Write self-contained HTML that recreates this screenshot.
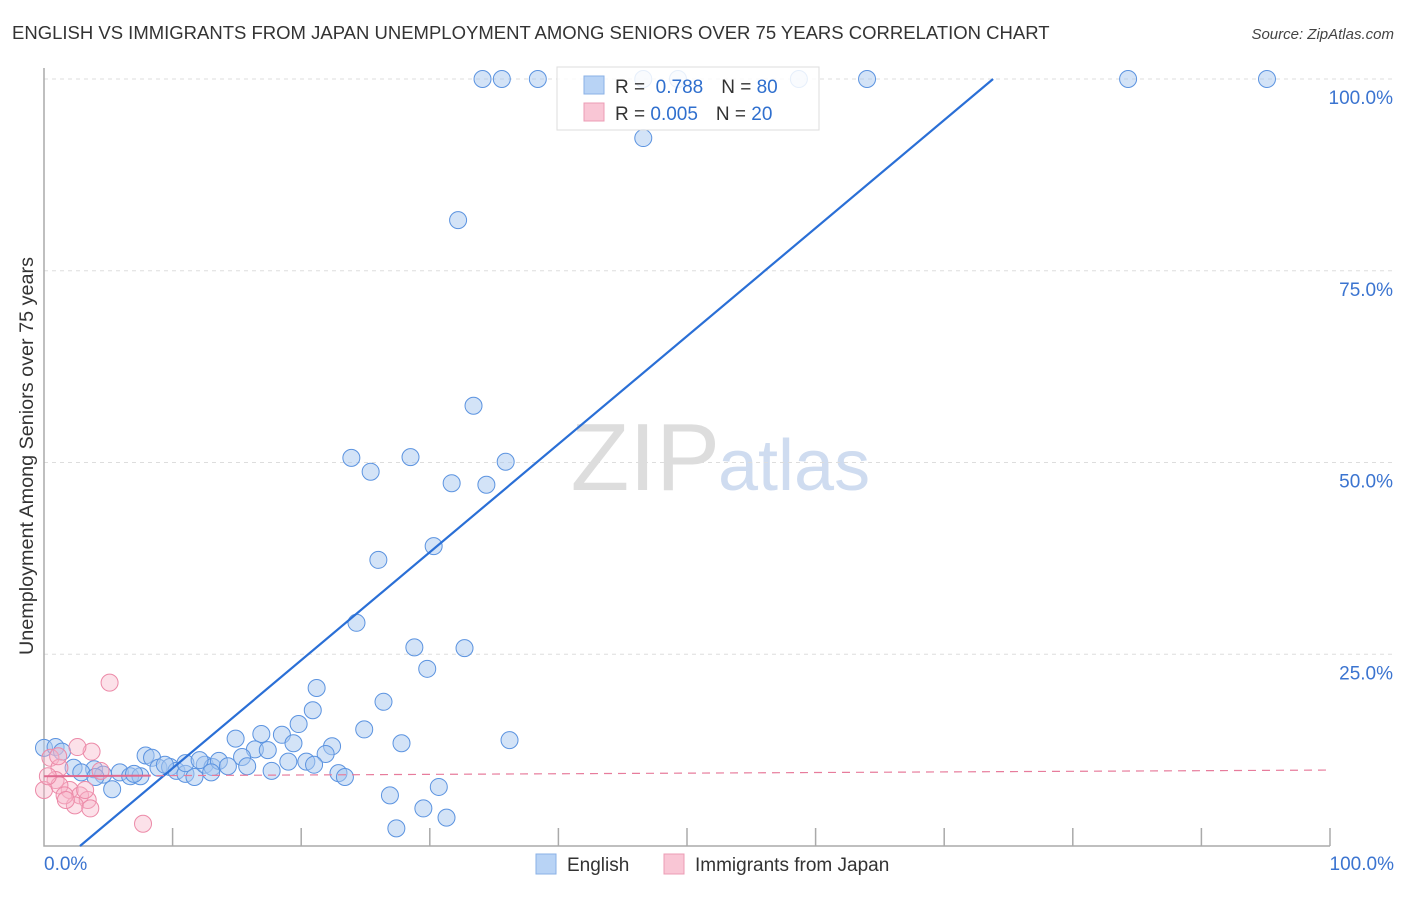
<!DOCTYPE html>
<html><head><meta charset="utf-8"><style>
body{margin:0;background:#fff;font-family:"Liberation Sans",sans-serif;}
svg text{font-family:"Liberation Sans",sans-serif;}
</style></head><body>
<svg id="chart" width="1406" height="892" xmlns="http://www.w3.org/2000/svg">
<text x="12" y="39" font-size="18.5" fill="#333">ENGLISH VS IMMIGRANTS FROM JAPAN UNEMPLOYMENT AMONG SENIORS OVER 75 YEARS CORRELATION CHART</text>
<text x="1394" y="39" font-size="15" fill="#444" text-anchor="end" font-style="italic">Source: ZipAtlas.com</text>
<text x="720" y="490" font-size="96" fill="#ddd" text-anchor="end" font-family="Liberation Serif">ZIP</text>
<text x="718" y="490" font-size="72" fill="#cfdcf0">atlas</text>
<text transform="translate(33,456) rotate(-90)" font-size="19.8" fill="#333" text-anchor="middle">Unemployment Among Seniors over 75 years</text>
<g id="grid"></g><g id="pts"></g><g id="lines"></g>
<g>
<rect x="557" y="67" width="262" height="63" fill="rgba(255,255,255,0.85)" stroke="#ddd"/>
<rect x="584" y="76" width="20" height="18" fill="#b8d3f5" stroke="#8ab0e6"/>
<rect x="584" y="103" width="20" height="18" fill="#f9c6d5" stroke="#ec9cb5"/>
<text x="615" y="93" font-size="19" fill="#333">R = <tspan fill="#2f6fce">&#160;0.788</tspan><tspan dx="18">N = </tspan><tspan fill="#2f6fce">80</tspan></text>
<text x="615" y="120" font-size="19" fill="#333">R = <tspan fill="#2f6fce">0.005</tspan><tspan dx="18">N = </tspan><tspan fill="#2f6fce">20</tspan></text>
</g>
<g>
<rect x="536" y="854" width="20" height="20" fill="#b8d3f5" stroke="#8ab0e6"/>
<text x="567" y="871" font-size="19" fill="#333">English</text>
<rect x="664" y="854" width="20" height="20" fill="#f9c6d5" stroke="#ec9cb5"/>
<text x="695" y="871" font-size="19" fill="#333">Immigrants from Japan</text>
</g>
</svg>
<script>
const yTicks=[25,50,75,100];
const yTickLabels=["25.0%","50.0%","75.0%","100.0%"];
const xTicks=[10,20,30,40,50,60,70,80,90,100];
const englishX=[34.1,35.6,38.4,46.6,49.3,58.7,64.0,84.3,95.1,46.6,32.2,33.4,23.9,28.5,25.4,35.9,31.7,34.4,26.0,30.3,24.3,28.8,32.7,29.8,21.2,26.4,20.9,19.8,24.9,14.9,36.2,16.9,18.5,19.4,27.8,16.4,17.4,22.4,21.9,15.4,0,0.9,1.4,2.3,3.9,2.9,4.6,5.9,6.7,7.5,7.9,8.4,8.9,9.8,10.3,11.0,11.7,12.5,13.1,13.6,14.3,15.8,17.7,20.4,22.9,23.4,5.3,26.9,29.5,30.7,27.4,31.3,9.4,11.0,12.1,7.0,4.0,19.0,21.0,13.0];
const englishY=[100,100,100,100,100,100,100,100,100,92.3,81.6,57.4,50.6,50.7,48.8,50.1,47.3,47.1,37.3,39.1,29.1,25.9,25.8,23.1,20.6,18.8,17.7,15.9,15.2,14.0,13.8,14.6,14.5,13.4,13.4,12.6,12.5,13.0,12.0,11.6,12.8,12.9,12.3,10.2,10.0,9.6,9.3,9.6,9.1,9.1,11.8,11.5,10.2,10.3,9.8,9.4,9.0,10.6,10.3,11.1,10.4,10.4,9.8,11.0,9.5,9.0,7.4,6.6,4.9,7.7,2.3,3.7,10.6,10.8,11.2,9.4,9.0,11.0,10.6,9.6];
const japanX=[5.1,7.7,0.5,1.2,3.7,2.6,0.9,0,2.0,2.8,3.4,2.4,1.2,0.3,1.6,3.6,4.4,3.2,1.1,1.7];
const japanY=[21.3,2.9,11.5,10.2,12.3,12.9,8.6,7.3,7.3,6.6,6.0,5.3,7.9,9.1,6.6,4.9,9.8,7.3,11.7,6.0];
const engTrend=[2.8,0,73.8,100];
const japTrend=[0,9.1,100,9.9];
const NS="http://www.w3.org/2000/svg";
const X=v=>44+v*12.86, Y=v=>846-v*7.67;
function mk(t,a,p){const e=document.createElementNS(NS,t);for(const k in a)e.setAttribute(k,a[k]);p.appendChild(e);return e;}
const grid=document.getElementById('grid');
yTicks.forEach((t,i)=>{
 const l=mk('line',{x1:44,x2:1394,y1:Y(t),y2:Y(t),stroke:'#ddd','stroke-dasharray':'4,4'},grid);
 
 
 const tx=mk('text',{x:1393,y:Y(t)+25,'font-size':19,fill:'#3b74d0','text-anchor':'end'},grid);
 tx.textContent=yTickLabels[i];
 
 
});
const ax=mk('path',{d:'M44,68V846H1330',fill:'none',stroke:'#aaa','stroke-width':1.5},grid);


xTicks.forEach(t=>{
 const l=mk('line',{x1:X(t),x2:X(t),y1:828,y2:846,stroke:'#aaa','stroke-width':1.5},grid);
 
 
});
[[44,'0.0%','start'],[1394,'100.0%','end']].forEach(([x,s,a])=>{
 const tx=mk('text',{x:x,y:870,'font-size':19,fill:'#3b74d0','text-anchor':a},grid);
 tx.textContent=s;
 
 
});
const pts=document.getElementById('pts');
englishX.forEach((v,i)=>{
 const c=mk('circle',{cx:X(v),cy:Y(englishY[i]),r:8.5,fill:'rgba(168,199,240,0.5)',stroke:'#5b93e0','stroke-width':1},pts);
 
 
});
japanX.forEach((v,i)=>{
 const c=mk('circle',{cx:X(v),cy:Y(japanY[i]),r:8.5,fill:'rgba(247,180,200,0.4)',stroke:'#ec8aa8','stroke-width':1},pts);
 
 
});
const lines=document.getElementById('lines');
const e=mk('line',{x1:X(engTrend[0]),y1:Y(engTrend[1]),x2:X(engTrend[2]),y2:Y(engTrend[3]),stroke:'#2a6fd6','stroke-width':2.2},lines);


const j=mk('line',{x1:X(japTrend[0]),y1:Y(japTrend[1]),x2:X(japTrend[2]),y2:Y(japTrend[3]),stroke:'#e77c9c','stroke-width':1.2,'stroke-dasharray':'8,6'},lines);


const js=mk('line',{x1:X(0),y1:Y(japTrend[1]),x2:X(8.3),y2:Y(japTrend[1]+0.07),stroke:'#e06a90','stroke-width':2},lines);


</script>
</body></html>
